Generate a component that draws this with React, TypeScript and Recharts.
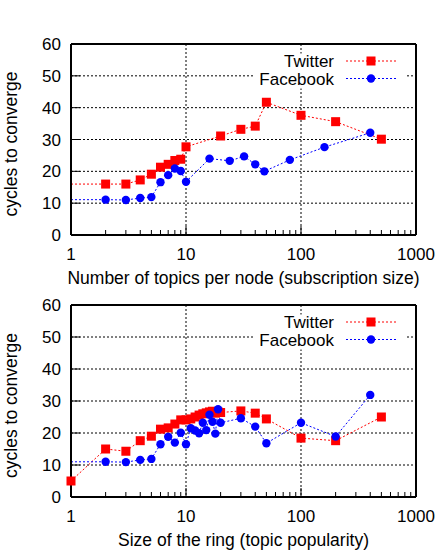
import { LineChart, Line, XAxis, YAxis, CartesianGrid } from "recharts";

const FONT = "'Liberation Sans', Arial, Helvetica, sans-serif";
const RED = "#ff0000";
const BLUE = "#0000ff";

// log x axis ticks: majors get labels, minors are just short marks
const xMajor = [1, 10, 100, 1000];
const xTicks = [
  1, 2, 3, 4, 5, 6, 7, 8, 9, 10, 20, 30, 40, 50, 60, 70, 80, 90, 100, 200, 300,
  400, 500, 600, 700, 800, 900, 1000,
];
const yTicks = [0, 10, 20, 30, 40, 50, 60];
const gridY = [10, 20, 30, 40, 50];
const gridX = [10, 100];

// top panel: subscription size
const subTwitterX = [2, 3, 4, 5, 6, 7, 8, 9, 10, 20, 30, 40, 50, 100, 200, 500];
const subTwitterY = [16, 16, 17.3, 19.1, 21.3, 22.2, 23.4, 23.8, 27.7, 31.1, 33.2, 34.2, 41.7, 37.6, 35.6, 30.1];
const subFacebookX = [2, 3, 4, 5, 6, 7, 8, 9, 10, 16, 24, 32, 40, 48, 80, 160, 400];
const subFacebookY = [11.1, 11, 11.6, 11.9, 16.6, 18.8, 20.9, 20.1, 16.7, 24, 23.3, 24.7, 22.2, 20, 23.6, 27.6, 32.1];

// bottom panel: ring size
const ringTwitterX = [1, 2, 3, 4, 5, 6, 7, 8, 9, 10, 11, 12, 13, 14, 15, 16, 17, 18, 19, 20, 30, 40, 50, 100, 200, 500];
const ringTwitterY = [5, 15, 14.3, 17.6, 19, 21.2, 21.6, 22.8, 24.1, 24.1, 24.4, 25, 25.6, 26, 26.3, 26.6, 26.8, 26.2, 26.6, 26.4, 26.9, 26.2, 24.4, 18.4, 17.6, 25];
const ringFacebookX = [2, 3, 4, 5, 6, 7, 8, 9, 10, 11, 12, 13, 14, 15, 16, 17, 18, 19, 20, 30, 40, 50, 100, 200, 400];
const ringFacebookY = [11, 10.9, 11.6, 11.9, 16.5, 18.8, 17, 20.1, 16.5, 21.5, 20.8, 19.9, 23.2, 20.9, 25.7, 23.5, 19.8, 27.4, 23.2, 24.6, 22, 16.8, 23.2, 18.9, 31.9];

type Pt = { x: number; y: number };

const zip = (xs: number[], ys: number[]): Pt[] => xs.map((x, i) => ({ x, y: ys[i] }));
// the line runs in from the left border at the first value (no marker there)
const withLead = (pts: Pt[]): Pt[] => [{ x: 1, y: pts[0].y }, ...pts];

const squareDot = (lead: boolean) => (p: any) => {
  if (lead && p.index === 0) return <g key={`s${p.index}`} />;
  return <rect key={`s${p.index}`} x={p.cx - 4.5} y={p.cy - 4.5} width={9} height={9} fill={RED} />;
};
const circleDot = (lead: boolean) => (p: any) => {
  if (lead && p.index === 0) return <g key={`c${p.index}`} />;
  return <circle key={`c${p.index}`} cx={p.cx} cy={p.cy} r={4.2} fill={BLUE} />;
};

function XTick(props: any) {
  const { x, y, payload, side } = props;
  const v = payload.value;
  const major = xMajor.includes(v);
  const len = major ? 9 : 5;
  const dir = side === "bottom" ? -1 : 1;
  return (
    <g>
      <line x1={x} x2={x} y1={y} y2={y + dir * len} stroke="#000" strokeWidth={1} />
      {side === "bottom" && major && (
        <text x={x} y={y + 25} textAnchor="middle" fontSize={17} fontFamily={FONT} fill="#000">
          {v}
        </text>
      )}
    </g>
  );
}

function YTick(props: any) {
  const { x, y, payload, side } = props;
  const dir = side === "left" ? 1 : -1;
  return (
    <g>
      <line x1={x} x2={x + dir * 9} y1={y} y2={y} stroke="#000" strokeWidth={1} />
      {side === "left" && (
        <text x={x - 10} y={y + 6} textAnchor="end" fontSize={17} fontFamily={FONT} fill="#000">
          {payload.value}
        </text>
      )}
    </g>
  );
}

function Key({ plotTop }: { plotTop: number }) {
  const r1 = plotTop + 17;
  const r2 = plotTop + 34.5;
  return (
    <svg width={440} height={plotTop + 60} style={{ position: "absolute", left: 0, top: 0, pointerEvents: "none" }}>
      <rect x={255} y={plotTop + 9.5} width={150} height={35} fill="#fff" />
      <text x={334} y={r1 + 6} textAnchor="end" fontSize={17} fontFamily={FONT}>Twitter</text>
      <line x1={346} x2={396} y1={r1} y2={r1} stroke={RED} strokeDasharray="2 2" />
      <rect x={371 - 4.5} y={r1 - 4.5} width={9} height={9} fill={RED} />
      <text x={334} y={r2 + 6} textAnchor="end" fontSize={17} fontFamily={FONT}>Facebook</text>
      <line x1={346} x2={396} y1={r2} y2={r2} stroke={BLUE} strokeDasharray="2 2" />
      <circle cx={371} cy={r2} r={4.2} fill={BLUE} />
    </svg>
  );
}

type PanelProps = {
  top: number;
  height: number;
  plotTop: number;
  plotBottom: number;
  xTitle: string;
  twitter: Pt[];
  facebook: Pt[];
  twitterLead: boolean;
  facebookLead: boolean;
};

function Panel({ top, height, plotTop, plotBottom, xTitle, twitter, facebook, twitterLead, facebookLead }: PanelProps) {
  const axisLine = { stroke: "#000", strokeWidth: 2 };
  return (
    <div style={{ position: "absolute", left: 0, top, width: 440, height }}>
      <LineChart width={440} height={height} margin={{ top: plotTop - 1, right: 23, bottom: 0, left: 0 }}>
        <CartesianGrid
          stroke="#000"
          strokeDasharray="2 2"
          horizontalValues={gridY}
          verticalValues={gridX}
        />
        <XAxis
          type="number"
          dataKey="x"
          scale="log"
          domain={[1, 1000]}
          ticks={xTicks}
          interval={0}
          height={height - plotBottom}
          tickSize={0}
          tickMargin={0}
          tickLine={false}
          axisLine={axisLine}
          tick={(p: any) => <XTick {...p} side="bottom" />}
          label={(p: any) => {
            const vb = p.viewBox;
            return (
              <text x={vb.x + vb.width / 2} y={vb.y + 48.5} textAnchor="middle" fontSize={17.5} fontFamily={FONT} fill="#000">
                {xTitle}
              </text>
            );
          }}
        />
        <XAxis
          xAxisId="top"
          orientation="top"
          type="number"
          dataKey="x"
          scale="log"
          domain={[1, 1000]}
          ticks={xTicks}
          interval={0}
          height={1}
          tickSize={0}
          tickMargin={0}
          tickLine={false}
          axisLine={axisLine}
          tick={(p: any) => <XTick {...p} side="top" />}
        />
        <YAxis
          type="number"
          domain={[0, 60]}
          ticks={yTicks}
          interval={0}
          width={71}
          tickSize={0}
          tickMargin={0}
          tickLine={false}
          axisLine={axisLine}
          tick={(p: any) => <YTick {...p} side="left" />}
          label={(p: any) => {
            const vb = p.viewBox;
            const cy = vb.y + vb.height / 2 + 4.5;
            return (
              <text x={16.5} y={cy} transform={`rotate(-90, 16.5, ${cy})`} textAnchor="middle" fontSize={17.5} fontFamily={FONT} fill="#000">
                cycles to converge
              </text>
            );
          }}
        />
        <YAxis
          yAxisId="right"
          orientation="right"
          type="number"
          domain={[0, 60]}
          ticks={yTicks}
          interval={0}
          width={1}
          tickSize={0}
          tickMargin={0}
          tickLine={false}
          axisLine={axisLine}
          tick={(p: any) => <YTick {...p} side="right" />}
        />
        <Line
          data={twitterLead ? withLead(twitter) : twitter}
          dataKey="y"
          type="linear"
          stroke={RED}
          strokeWidth={1}
          strokeDasharray="2 2"
          dot={squareDot(twitterLead)}
          activeDot={false}
          isAnimationActive={false}
        />
        <Line
          data={facebookLead ? withLead(facebook) : facebook}
          dataKey="y"
          type="linear"
          stroke={BLUE}
          strokeWidth={1}
          strokeDasharray="2 2"
          dot={circleDot(facebookLead)}
          activeDot={false}
          isAnimationActive={false}
        />
      </LineChart>
      <Key plotTop={plotTop} />
    </div>
  );
}

export default function App() {
  return (
    <div style={{ position: "absolute", left: 0, top: 0, width: 440, height: 554, background: "#fff" }}>
      <Panel
        top={0}
        height={290}
        plotTop={44}
        plotBottom={235}
        xTitle="Number of topics per node (subscription size)"
        twitter={zip(subTwitterX, subTwitterY)}
        facebook={zip(subFacebookX, subFacebookY)}
        twitterLead={true}
        facebookLead={true}
      />
      <Panel
        top={290}
        height={264}
        plotTop={15}
        plotBottom={207}
        xTitle="Size of the ring (topic popularity)"
        twitter={zip(ringTwitterX, ringTwitterY)}
        facebook={zip(ringFacebookX, ringFacebookY)}
        twitterLead={false}
        facebookLead={true}
      />
    </div>
  );
}
